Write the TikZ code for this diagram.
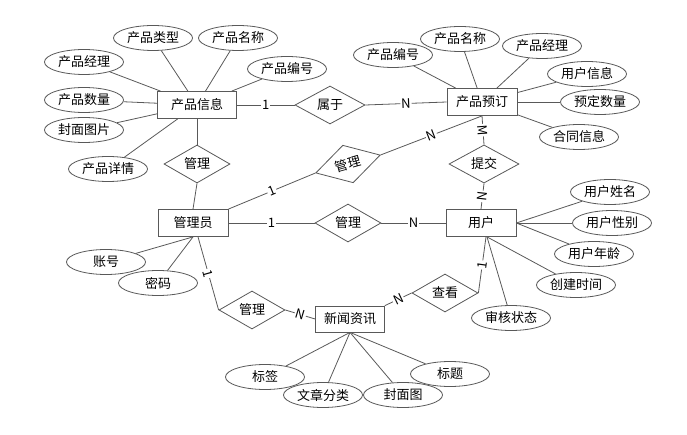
\documentclass[tikz,border=0pt]{standalone}
\usepackage{fontspec}
\usepackage{tikz}
\usetikzlibrary{shapes.geometric}
\newfontfamily\cjkfont{Noto Sans CJK SC}
\tikzstyle{er}=[draw=black!65, line width=0.8pt, font=\cjkfont\fontsize{13}{15}\selectfont]
\tikzstyle{ent}=[rectangle, draw, fill=white, minimum width=70pt, minimum height=27pt, inner sep=2pt]
\tikzstyle{attr}=[ellipse, draw, fill=white, minimum width=79pt, minimum height=25pt, inner sep=0pt]
\tikzstyle{rel}=[diamond, draw, fill=white, minimum width=66pt, minimum height=38pt, inner sep=0pt]
\tikzstyle{edge}=[draw=black!65]
\tikzstyle{card}=[midway, sloped, fill=white, inner sep=1pt]

\begin{document}
\begin{tikzpicture}[er, x=1pt, y=-1pt]
	\useasboundingbox (0,0) rectangle (687,435);
	\draw (197,105) node[ent, minimum width=79pt] (info) {产品信息};
	\draw (482,102) node[ent] (order) {产品预订};
	\draw (193,223) node[ent] (admin) {管理员};
	\draw (481,223) node[ent] (user) {用户};
	\draw (350,319) node[ent, minimum width=69pt, minimum height=26pt] (news) {新闻资讯};
	\draw (330,105) node[rel, minimum width=70pt] (belong) {属于};
	\draw (197,164) node[rel] (manInfo) {管理};
	\draw (348,164) node[rel, rotate=15.5, minimum width=67pt, minimum height=39pt] (manOrder) {管理};
	\draw (348,223) node[rel] (manUser) {管理};
	\draw (252,310) node[rel] (manNews) {管理};
	\draw (445,293) node[rel] (view) {查看};
	\draw (484,164) node[rel, minimum width=70pt] (submit) {提交};
	\draw (153,38) node[attr] (infoType) {产品类型};
	\draw (238,38) node[attr] (infoName) {产品名称};
	\draw (84,62) node[attr] (infoMgr) {产品经理};
	\draw (287,69) node[attr] (infoNo) {产品编号};
	\draw (84,100) node[attr] (infoNum) {产品数量};
	\draw (84,130) node[attr] (infoPic) {封面图片};
	\draw (108,169) node[attr] (infoDet) {产品详情};
	\draw (393,55) node[attr] (ordNo) {产品编号};
	\draw (460,39) node[attr] (ordName) {产品名称};
	\draw (542,46) node[attr] (ordMgr) {产品经理};
	\draw (587,74) node[attr] (ordUser) {用户信息};
	\draw (600,102) node[attr] (ordNum) {预定数量};
	\draw (579,137) node[attr] (ordDeal) {合同信息};
	\draw (106,262) node[attr] (admAcc) {账号};
	\draw (158,283) node[attr] (admPwd) {密码};
	\draw (610,192) node[attr] (usrName) {用户姓名};
	\draw (612,223) node[attr] (usrSex) {用户性别};
	\draw (594,254) node[attr] (usrAge) {用户年龄};
	\draw (576,285) node[attr] (usrTime) {创建时间};
	\draw (511,318) node[attr] (usrState) {审核状态};
	\draw (265,377) node[attr] (newsTag) {标签};
	\draw (323,395) node[attr] (newsCat) {文章分类};
	\draw (403,395) node[attr] (newsPic) {封面图};
	\draw (450,374) node[attr] (newsTitle) {标题};
	\draw[edge] (info) -- (infoType);
	\draw[edge] (info) -- (infoName);
	\draw[edge] (info) -- (infoMgr);
	\draw[edge] (info) -- (infoNo);
	\draw[edge] (info) -- (infoNum);
	\draw[edge] (info) -- (infoPic);
	\draw[edge] (info) -- (infoDet);
	\draw[edge] (order) -- (ordNo);
	\draw[edge] (order) -- (ordName);
	\draw[edge] (order) -- (ordMgr);
	\draw[edge] (order) -- (ordUser);
	\draw[edge] (order) -- (ordNum);
	\draw[edge] (order) -- (ordDeal);
	\draw[edge] (admin.south) -- (admAcc);
	\draw[edge] (admin.south) -- (admPwd);
	\draw[edge] (user.east) -- (usrName);
	\draw[edge] (user.east) -- (usrSex);
	\draw[edge] (user.east) -- (usrAge);
	\draw[edge] ([xshift=6pt]user.south) -- (usrTime);
	\draw[edge] ([xshift=6pt]user.south) -- (usrState);
	\draw[edge] (news.south) -- (newsTag);
	\draw[edge] (news.south) -- (newsCat);
	\draw[edge] (news.south) -- (newsPic);
	\draw[edge] (news.south) -- (newsTitle);
	\draw[edge] (info.east) -- (belong.west) node[card] {1};
	\draw[edge] (belong.east) -- (order.west) node[card] {N};
	\draw[edge] (info.south) -- (manInfo.north);
	\draw[edge] (manInfo.south) -- (admin.north);
	\draw[edge] (admin.north east) -- (manOrder.west) node[card] {1};
	\draw[edge] (manOrder.east) -- (order.south) node[card] {N};
	\draw[edge] (admin.east) -- (manUser.west) node[card] {1};
	\draw[edge] (manUser.east) -- (user.west) node[card] {N};
	\draw[edge] ([xshift=5pt]admin.south) -- (manNews.west) node[card] {1};
	\draw[edge] (manNews.east) -- (news.west) node[card] {N};
	\draw[edge] (news.north east) -- (view.west) node[card] {N};
	\draw[edge] (view.east) -- ([xshift=5pt]user.south) node[card] {1};
	\draw[edge] (order.south) -- (submit.north) node[card] {M};
	\draw[edge] (submit.south) -- (user.north) node[card] {N};
\end{tikzpicture}
\end{document}
